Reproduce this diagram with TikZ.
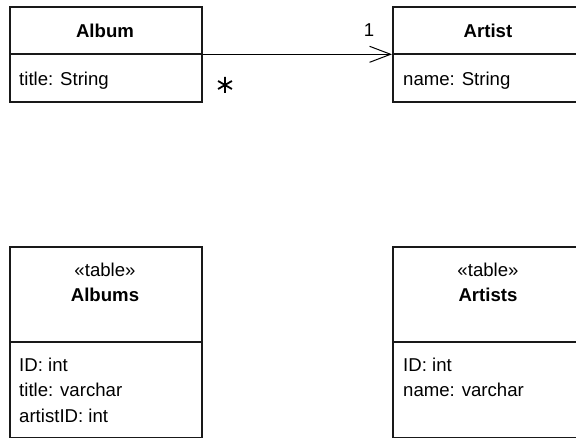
\documentclass[tikz,border=0pt]{standalone}
\usepackage{fontspec}
\setmainfont{Liberation Sans}
\usetikzlibrary{arrows.meta}
\begin{document}
\begin{tikzpicture}[x=1pt,y=-1pt,
  box/.style={draw=black!90,line width=1.6pt,minimum width=192pt,inner sep=0pt,anchor=north west},
  divider/.style={draw=black!90,line width=1.3pt},
  txt/.style={font=\fontsize{18.6}{25}\selectfont,inner sep=0pt,anchor=base},
  attr/.style={txt,anchor=base west,align=left},
  head/.style={txt,font=\fontsize{18.6}{25}\selectfont\bfseries},
  conn/.style={line width=1pt}]
\clip (0,0) rectangle (576,438);
\useasboundingbox (0,0) rectangle (576,438);
% top class boxes
\node[box,minimum height=95pt] (album) at (9,6) {};
\node[box,minimum height=95pt] (artist) at (392,6) {};
\draw[divider] (9,54) -- (201,54);
\draw[divider] (392,54) -- (584,54);
\node[head] (albumT) at (105,37.5) {Album};
\node[head] (artistT) at (488,37.5) {Artist};
\node[attr] (albumA) at (19,86) {title: String};
\node[attr] (artistA) at (403,86) {name: String};
% association
\draw[conn,-{Straight Barb[length=21pt,width=16pt,line width=1pt]}] (album.east) -- (artist.west);
\node[txt] (one) at (369,37) {1};
\node (many) at (225,85) {};
\draw[line width=1.8pt] (225,77) -- (225,93)
  (218.1,81) -- (231.9,89) (218.1,89) -- (231.9,81);
% table boxes
\node[box,minimum height=191pt] (albums) at (9,246) {};
\node[box,minimum height=191pt] (artists) at (392,246) {};
\draw[divider] (9,342) -- (201,342);
\draw[divider] (392,342) -- (584,342);
\node[txt] (albumsS) at (105,277) {«table»};
\node[head] (albumsT) at (105,302) {Albums};
\node[txt] (artistsS) at (488,277) {«table»};
\node[head] (artistsT) at (488,302) {Artists};
\node[attr] (albumsA1) at (19,372) {ID: int};
\node[attr] (albumsA2) at (19,397) {title: varchar};
\node[attr] (albumsA3) at (19,422) {artistID: int};
\node[attr] (artistsA1) at (403,372) {ID: int};
\node[attr] (artistsA2) at (403,397) {name: varchar};
\end{tikzpicture}
\end{document}
